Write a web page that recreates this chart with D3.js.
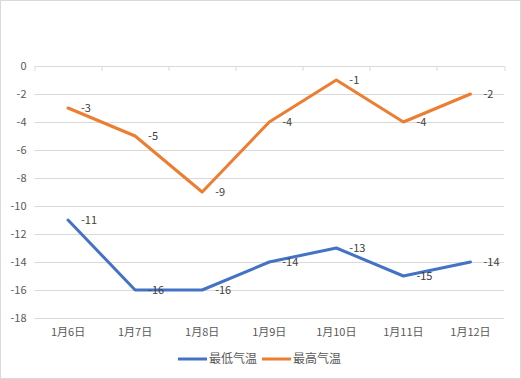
<!DOCTYPE html>
<html>
<head>
<meta charset="utf-8">
<script src="https://cdn.jsdelivr.net/npm/d3@7"></script>
<style>
  body { margin: 0; background: #fff; }
  svg { display: block; }
</style>
</head>
<body>
<div id="chart"></div>
<script>
var dates = ["1月6日", "1月7日", "1月8日", "1月9日", "1月10日", "1月11日", "1月12日"]
var lowTemps = [-11, -16, -16, -14, -13, -15, -14]
var highTemps = [-3, -5, -9, -4, -1, -4, -2]
var yTicks = [0, -2, -4, -6, -8, -10, -12, -14, -16, -18]

var series = [
    {name: "最低气温", values: lowTemps, color: "#4472C4"},
    {name: "最高气温", values: highTemps, color: "#ED7D31"}
]

var W = 521, H = 379
var margin = {top: 66, right: 17, bottom: 61, left: 34.5}
var width = W - margin.left - margin.right,
    height = H - margin.top - margin.bottom
var font = "'Noto Sans CJK SC', 'Noto Sans', sans-serif"

var svg = d3.select("#chart").append("svg")
    .attr("width", W)
    .attr("height", H)

svg.append("rect")
    .attr("x", 0.5).attr("y", 0.5)
    .attr("width", W - 1).attr("height", H - 1)
    .attr("fill", "#fff")
    .attr("stroke", "#d9d9d9")

var g = svg.append("g")
    .attr("transform", "translate(" + margin.left + "," + margin.top + ")")

var x = d3.scaleBand()
    .domain(dates)
    .range([0, width])
var y = d3.scaleLinear()
    .domain([-18, 0])
    .range([height, 0])

// gridlines
g.append("g").selectAll("line")
    .data(yTicks.filter(d => d != 0))
    .join("line")
    .attr("x1", 0).attr("x2", width)
    .attr("y1", d => Math.round(y(d)) + 0.5)
    .attr("y2", d => Math.round(y(d)) + 0.5)
    .attr("stroke", "#d9d9d9")

// y labels
g.append("g").selectAll("text")
    .data(yTicks)
    .join("text")
    .attr("x", -8)
    .attr("y", d => y(d))
    .attr("dy", "0.35em")
    .attr("text-anchor", "end")
    .style("font-family", font)
    .style("font-size", "11px")
    .attr("fill", "#595959")
    .text(d => d)

// category axis at zero, ticks at band boundaries
var axisG = g.append("g")
axisG.append("line")
    .attr("x1", 0).attr("x2", width)
    .attr("y1", Math.round(y(0)) + 0.5).attr("y2", Math.round(y(0)) + 0.5)
    .attr("stroke", "#d9d9d9")
axisG.selectAll("line.tick")
    .data(d3.range(dates.length + 1))
    .join("line")
    .attr("class", "tick")
    .attr("x1", i => Math.round(i * x.step()) + 0.5)
    .attr("x2", i => Math.round(i * x.step()) + 0.5)
    .attr("y1", y(0)).attr("y2", y(0) + 5)
    .attr("stroke", "#d9d9d9")

// x labels at bottom
g.append("g").selectAll("text")
    .data(dates)
    .join("text")
    .attr("x", d => x(d) + x.bandwidth() / 2)
    .attr("y", height + 18)
    .attr("text-anchor", "middle")
    .style("font-family", font)
    .style("font-size", "11px")
    .attr("fill", "#595959")
    .text(d => d)

var line = d3.line()
    .x((d, i) => x(dates[i]) + x.bandwidth() / 2)
    .y(d => y(d))

series.forEach(s => {
    g.append("path")
        .datum(s.values)
        .attr("d", line)
        .attr("fill", "none")
        .attr("stroke", s.color)
        .attr("stroke-width", 3)
        .attr("stroke-linejoin", "round")
        .attr("stroke-linecap", "round")
    g.append("g").selectAll("text")
        .data(s.values)
        .join("text")
        .attr("x", (d, i) => x(dates[i]) + x.bandwidth() / 2 + 13)
        .attr("y", d => y(d))
        .attr("dy", "0.35em")
        .style("font-family", font)
        .style("font-size", "11px")
        .attr("fill", "#404040")
        .text(d => d)
})

// legend
var legend = svg.append("g")
    .attr("transform", "translate(178," + 359 + ")")
series.forEach((s, i) => {
    var lg = legend.append("g").attr("transform", "translate(" + (i * 84) + ",0)")
    lg.append("line")
        .attr("x1", 0).attr("x2", 29)
        .attr("y1", 0).attr("y2", 0)
        .attr("stroke", s.color)
        .attr("stroke-width", 3)
    lg.append("text")
        .attr("x", 31)
        .attr("y", 0)
        .attr("dy", "0.35em")
        .style("font-family", font)
        .style("font-size", "12px")
        .attr("fill", "#595959")
        .text(s.name)
})
</script>
</body>
</html>
